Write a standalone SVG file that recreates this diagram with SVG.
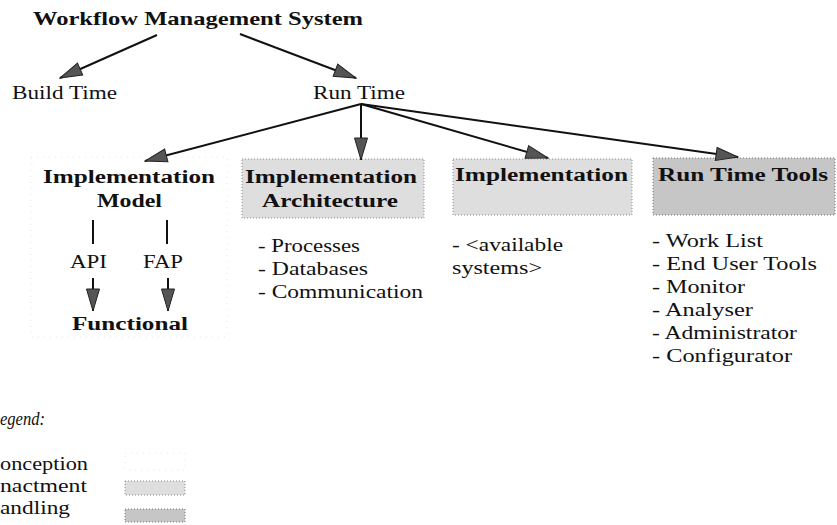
<svg xmlns="http://www.w3.org/2000/svg" width="837" height="525" viewBox="0 0 837 525">
<style>
  text { font-family: "Liberation Serif", "DejaVu Serif", serif; fill: #111; }
  .t { font-size: 19px; font-weight: bold; }
  .b { font-size: 18px; font-weight: bold; }
  .r { font-size: 18px; }
  .it { font-style: italic; }
  .edge { stroke: #111; stroke-width: 2; fill: none; }
  .arr { marker-end: url(#ah); }
  .conc { fill: none; stroke: #e6e6e6; stroke-width: 1; stroke-dasharray: 1 5; }
  .enact { fill: #dedede; stroke: #8a8a8a; stroke-width: 1; stroke-dasharray: 1 2; }
  .hand { fill: #c6c6c6; stroke: #777; stroke-width: 1; stroke-dasharray: 1 2; }
</style>
<defs>
  <marker id="ah" markerUnits="userSpaceOnUse" markerWidth="24" markerHeight="16" viewBox="0 0 24 16" refX="23" refY="8" orient="auto">
    <path d="M1,1.5 L23,8 L1,14.5 z" fill="#555" stroke="#222" stroke-width="1"/>
  </marker>
</defs>

<g id="wfms">
  <text class="t" x="33" y="25" textLength="330" lengthAdjust="spacingAndGlyphs">Workflow Management System</text>
</g>
<g id="build-time">
  <text class="r" x="12" y="99" textLength="105" lengthAdjust="spacingAndGlyphs">Build Time</text>
</g>
<g id="run-time">
  <text class="r" x="313" y="99" textLength="92" lengthAdjust="spacingAndGlyphs">Run Time</text>
</g>

<g id="impl-model">
  <rect class="conc" x="31" y="157" width="196" height="180"/>
  <text class="b" x="43" y="183" textLength="172" lengthAdjust="spacingAndGlyphs">Implementation</text>
  <text class="b" x="97" y="207" textLength="65" lengthAdjust="spacingAndGlyphs">Model</text>
</g>
<g id="api">
  <text class="r" x="70" y="268" textLength="37" lengthAdjust="spacingAndGlyphs">API</text>
</g>
<g id="fap">
  <text class="r" x="143" y="268" textLength="40" lengthAdjust="spacingAndGlyphs">FAP</text>
</g>
<g id="functional">
  <text class="b" x="72" y="330" textLength="116" lengthAdjust="spacingAndGlyphs">Functional</text>
</g>

<g id="impl-arch">
  <rect class="enact" x="242" y="159" width="182" height="59"/>
  <text class="b" x="245" y="183" textLength="172" lengthAdjust="spacingAndGlyphs">Implementation</text>
  <text class="b" x="262" y="207" textLength="136" lengthAdjust="spacingAndGlyphs">Architecture</text>
  <text class="r" x="258" y="252" textLength="102" lengthAdjust="spacingAndGlyphs">- Processes</text>
  <text class="r" x="258" y="275" textLength="110" lengthAdjust="spacingAndGlyphs">- Databases</text>
  <text class="r" x="258" y="298" textLength="165" lengthAdjust="spacingAndGlyphs">- Communication</text>
</g>

<g id="implementation">
  <rect class="enact" x="453" y="159" width="179" height="56"/>
  <text class="b" x="455" y="181" textLength="173" lengthAdjust="spacingAndGlyphs">Implementation</text>
  <text class="r" x="452" y="251" textLength="111" lengthAdjust="spacingAndGlyphs">- &lt;available</text>
  <text class="r" x="452" y="274" textLength="90" lengthAdjust="spacingAndGlyphs">systems&gt;</text>
</g>

<g id="run-time-tools">
  <rect class="hand" x="653" y="158" width="182" height="57"/>
  <text class="b" x="658" y="181" textLength="170" lengthAdjust="spacingAndGlyphs">Run Time Tools</text>
  <text class="r" x="652" y="247" textLength="111" lengthAdjust="spacingAndGlyphs">- Work List</text>
  <text class="r" x="652" y="270" textLength="165" lengthAdjust="spacingAndGlyphs">- End User Tools</text>
  <text class="r" x="652" y="293" textLength="93" lengthAdjust="spacingAndGlyphs">- Monitor</text>
  <text class="r" x="652" y="316" textLength="101" lengthAdjust="spacingAndGlyphs">- Analyser</text>
  <text class="r" x="652" y="339" textLength="145" lengthAdjust="spacingAndGlyphs">- Administrator</text>
  <text class="r" x="652" y="362" textLength="140" lengthAdjust="spacingAndGlyphs">- Configurator</text>
</g>

<g id="legend">
  <text class="r it" x="0" y="425" textLength="45" lengthAdjust="spacingAndGlyphs">egend:</text>
  <text class="r" x="0" y="470" textLength="88" lengthAdjust="spacingAndGlyphs">onception</text>
  <text class="r" x="0" y="492" textLength="87" lengthAdjust="spacingAndGlyphs">nactment</text>
  <text class="r" x="0" y="514" textLength="70" lengthAdjust="spacingAndGlyphs">andling</text>
  <rect class="conc" x="125" y="453" width="60" height="17"/>
  <rect class="enact" x="125" y="481" width="60" height="14"/>
  <rect class="hand" x="125" y="509" width="60" height="13"/>
</g>

<g id="connectors">
  <line class="edge arr" x1="157" y1="35" x2="60" y2="78"/>
  <line class="edge arr" x1="240" y1="34" x2="356" y2="78"/>
  <line class="edge arr" x1="361" y1="104" x2="145" y2="161"/>
  <line class="edge arr" x1="361" y1="104" x2="361" y2="160"/>
  <line class="edge arr" x1="361" y1="104" x2="548" y2="158"/>
  <line class="edge arr" x1="361" y1="104" x2="738" y2="157"/>
  <line class="edge" x1="93" y1="220" x2="93" y2="244"/>
  <line class="edge" x1="167" y1="220" x2="167" y2="244"/>
  <line class="edge arr" x1="93" y1="278" x2="93" y2="311"/>
  <line class="edge arr" x1="168" y1="278" x2="168" y2="311"/>
</g>
</svg>
